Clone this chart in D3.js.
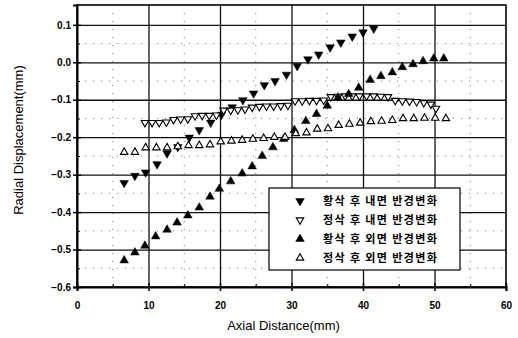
<!DOCTYPE html>
<html>
<head>
<meta charset="utf-8">
<script src="https://cdn.jsdelivr.net/npm/d3@7"></script>
<style>
  body { margin: 0; background: #fff; }
  svg { display: block; }
  .tick text { font-family: "Liberation Sans", Arial, sans-serif; font-weight: bold; font-size: 10px; }
</style>
</head>
<body>
<div id="svgcontainer"></div>
<script>
// 황삭 후 내면 (filled, down)
const roughInX = [6.6, 8.1, 9.6, 11.2, 12.6, 14.1, 15.7, 17.1, 18.7, 20.2, 21.7, 23.2, 24.7, 26.2, 27.7, 29.3, 30.8, 32.3, 33.8, 35.4, 36.9, 38.5, 40.0, 41.5];
const roughInY = [-0.322, -0.303, -0.294, -0.272, -0.243, -0.226, -0.201, -0.181, -0.161, -0.14, -0.12, -0.101, -0.083, -0.061, -0.05, -0.033, -0.01, 0.008, 0.021, 0.04, 0.053, 0.069, 0.08, 0.09];

// 정삭 후 내면 (open, down)
const finishInX = [9.5, 10.5, 11.5, 12.5, 13.5, 14.5, 15.5, 16.5, 17.5, 18.5, 19.5, 20.5, 21.5, 22.5, 23.5, 24.5, 25.5, 26.5, 27.5, 28.5, 29.5, 30.5, 31.5, 32.5, 33.5, 34.5, 35.5, 36.5, 37.5, 38.5, 39.5, 40.5, 41.5, 42.5, 43.5, 44.5, 45.5, 46.5, 47.5, 48.5, 49.5, 50.2];
const finishInY = [-0.161, -0.161, -0.161, -0.16, -0.153, -0.152, -0.151, -0.143, -0.142, -0.142, -0.141, -0.128, -0.128, -0.127, -0.125, -0.12, -0.118, -0.117, -0.117, -0.116, -0.115, -0.103, -0.103, -0.102, -0.102, -0.101, -0.092, -0.091, -0.09, -0.09, -0.09, -0.09, -0.09, -0.091, -0.092, -0.102, -0.103, -0.104, -0.105, -0.108, -0.112, -0.123];

// 황삭 후 외면 (filled, up)
const roughOutX = [6.6, 8.1, 9.5, 11.0, 12.6, 14.0, 15.5, 17.1, 18.6, 19.9, 21.5, 23.1, 24.5, 25.9, 27.4, 28.9, 30.4, 32.0, 33.5, 35.0, 36.5, 38.0, 39.4, 41.0, 42.5, 44.1, 45.5, 47.0, 48.4, 49.9, 51.3];
const roughOutY = [-0.529, -0.508, -0.49, -0.465, -0.447, -0.428, -0.409, -0.388, -0.359, -0.338, -0.318, -0.297, -0.278, -0.25, -0.227, -0.205, -0.181, -0.157, -0.138, -0.116, -0.094, -0.085, -0.068, -0.047, -0.037, -0.027, -0.013, -0.005, 0.003, 0.01, 0.01];

// 정삭 후 외면 (open, up)
const finishOutX = [6.6, 8.1, 9.6, 11.1, 12.6, 14.1, 15.6, 17.1, 18.6, 20.1, 21.6, 23.1, 24.6, 26.1, 27.6, 29.1, 30.6, 32.1, 33.6, 35.1, 36.6, 38.1, 39.6, 41.1, 42.6, 44.1, 45.6, 47.1, 48.6, 50.1, 51.6];
const finishOutY = [-0.24, -0.24, -0.228, -0.228, -0.228, -0.225, -0.222, -0.222, -0.22, -0.212, -0.21, -0.208, -0.205, -0.203, -0.2, -0.2, -0.19, -0.188, -0.178, -0.177, -0.168, -0.165, -0.162, -0.158, -0.157, -0.155, -0.15, -0.15, -0.149, -0.149, -0.15];

const legendLabels = ['황삭 후 내면 반경변화', '정삭 후 내면 반경변화', '황삭 후 외면 반경변화', '정삭 후 외면 반경변화'];
const xTicks = [0, 10, 20, 30, 40, 50, 60];
const yTicks = [0.1, 0.0, -0.1, -0.2, -0.3, -0.4, -0.5, -0.6];

const margin = { top: 5, right: 12, bottom: 51, left: 77 };
const width = 518 - margin.left - margin.right;
const height = 338 - margin.top - margin.bottom;

const svg = d3.select('#svgcontainer')
  .append('svg')
  .attr('width', 518)
  .attr('height', 338);
const g = svg.append('g')
  .attr('transform', 'translate(' + margin.left + ',' + margin.top + ')');

const xScale = d3.scaleLinear().domain([0, 60]).range([0, width]);
const yScale = d3.scaleLinear().domain([-0.6, 0.153]).range([height, 0]);

// minor dotted grid
const xMinor = d3.range(5, 60, 10);
const yMinor = d3.range(-0.55, 0.1, 0.1);
g.append('g').selectAll('line').data(xMinor).enter().append('line')
  .attr('x1', d => xScale(d)).attr('x2', d => xScale(d))
  .attr('y1', 0).attr('y2', height)
  .attr('stroke', '#777').attr('stroke-width', 1).attr('stroke-dasharray', '1,7');
g.append('g').selectAll('line').data(yMinor).enter().append('line')
  .attr('x1', 0).attr('x2', width)
  .attr('y1', d => yScale(d)).attr('y2', d => yScale(d))
  .attr('stroke', '#777').attr('stroke-width', 1).attr('stroke-dasharray', '1,7');

// major grid
g.append('g')
  .call(d3.axisBottom(xScale).tickValues(xTicks.slice(1, -1)).tickSize(height).tickFormat(''))
  .call(s => s.select('.domain').remove())
  .selectAll('line').attr('stroke', '#111').attr('stroke-width', 1.3);
g.append('g')
  .call(d3.axisLeft(yScale).tickValues(yTicks.slice(0, -1)).tickSize(-width).tickFormat(''))
  .call(s => s.select('.domain').remove())
  .selectAll('line').attr('stroke', '#111').attr('stroke-width', 1.3);

// frame
g.append('rect')
  .attr('x', 0).attr('y', 0).attr('width', width).attr('height', height)
  .attr('fill', 'none').attr('stroke', '#000').attr('stroke-width', 1.6);

// axes
const xAxis = g.append('g')
  .attr('transform', 'translate(0,' + height + ')')
  .call(d3.axisBottom(xScale).tickValues(xTicks).tickSize(4).tickPadding(11).tickFormat(d3.format('d')));
xAxis.select('.domain').attr('stroke-width', 2);
xAxis.selectAll('.tick line').attr('y1', -4).attr('stroke-width', 1.5);
g.append('g')
  .attr('transform', 'translate(0,' + height + ')')
  .call(d3.axisBottom(xScale).tickValues(xMinor).tickSize(-3).tickFormat(''))
  .call(s => s.select('.domain').remove());

const yAxis = g.append('g')
  .call(d3.axisLeft(yScale).tickValues(yTicks).tickSize(4).tickPadding(2).tickFormat(d3.format('.1f')));
yAxis.select('.domain').attr('stroke-width', 2);
yAxis.selectAll('.tick line').attr('x1', 4).attr('stroke-width', 1.5);
g.append('g')
  .call(d3.axisLeft(yScale).tickValues(yMinor).tickSize(-3).tickFormat(''))
  .call(s => s.select('.domain').remove());

// axis titles
svg.append('text')
  .attr('x', margin.left + width / 2 - 8)
  .attr('y', 330)
  .attr('text-anchor', 'middle')
  .style('font-family', '"Liberation Sans", Arial, sans-serif')
  .style('font-size', '13px')
  .text('Axial Distance(mm)');
svg.append('text')
  .attr('transform', 'translate(23,' + 140 + ') rotate(-90)')
  .attr('text-anchor', 'middle')
  .style('font-family', '"Liberation Sans", Arial, sans-serif')
  .style('font-size', '13px')
  .text('Radial Displacement(mm)');

// markers
const upPath = d3.symbol().type(d3.symbolTriangle);
const series = [
  { xs: roughInX, ys: roughInY, down: true, filled: true },
  { xs: finishInX, ys: finishInY, down: true, filled: false },
  { xs: roughOutX, ys: roughOutY, down: false, filled: true },
  { xs: finishOutX, ys: finishOutY, down: false, filled: false },
];

function styleMarker(sel, s) {
  sel.attr('d', upPath.size(s.filled ? 32 : 24)())
    .attr('fill', s.filled ? '#000' : '#fff')
    .attr('stroke', '#000')
    .attr('stroke-width', s.filled ? 0.5 : 1.1);
}

series.forEach(s => {
  g.append('g').selectAll('path')
    .data(s.xs.map((x, i) => [x, s.ys[i]]))
    .enter().append('path')
    .attr('transform', d => 'translate(' + xScale(d[0]) + ',' + yScale(d[1]) + ')' + (s.down ? ' rotate(180)' : ''))
    .call(sel => styleMarker(sel, s));
});

// legend
const legend = svg.append('g').attr('transform', 'translate(269,188)');
legend.append('rect')
  .attr('width', 191).attr('height', 82)
  .attr('fill', '#fff').attr('stroke', '#000').attr('stroke-width', 1.2);
legendLabels.forEach((label, i) => {
  const row = legend.append('g').attr('transform', 'translate(0,' + (13 + i * 19) + ')');
  row.append('path')
    .attr('transform', 'translate(31,0)' + (series[i].down ? ' rotate(180)' : ''))
    .call(sel => styleMarker(sel, series[i]));
  row.append('text')
    .attr('x', 54).attr('y', 4)
    .style('font-family', '"Noto Sans CJK KR", sans-serif')
    .style('font-size', '11px')
    .style('font-weight', 'bold')
    .style('letter-spacing', '1.4px')
    .text(label);
});
</script>
</body>
</html>
